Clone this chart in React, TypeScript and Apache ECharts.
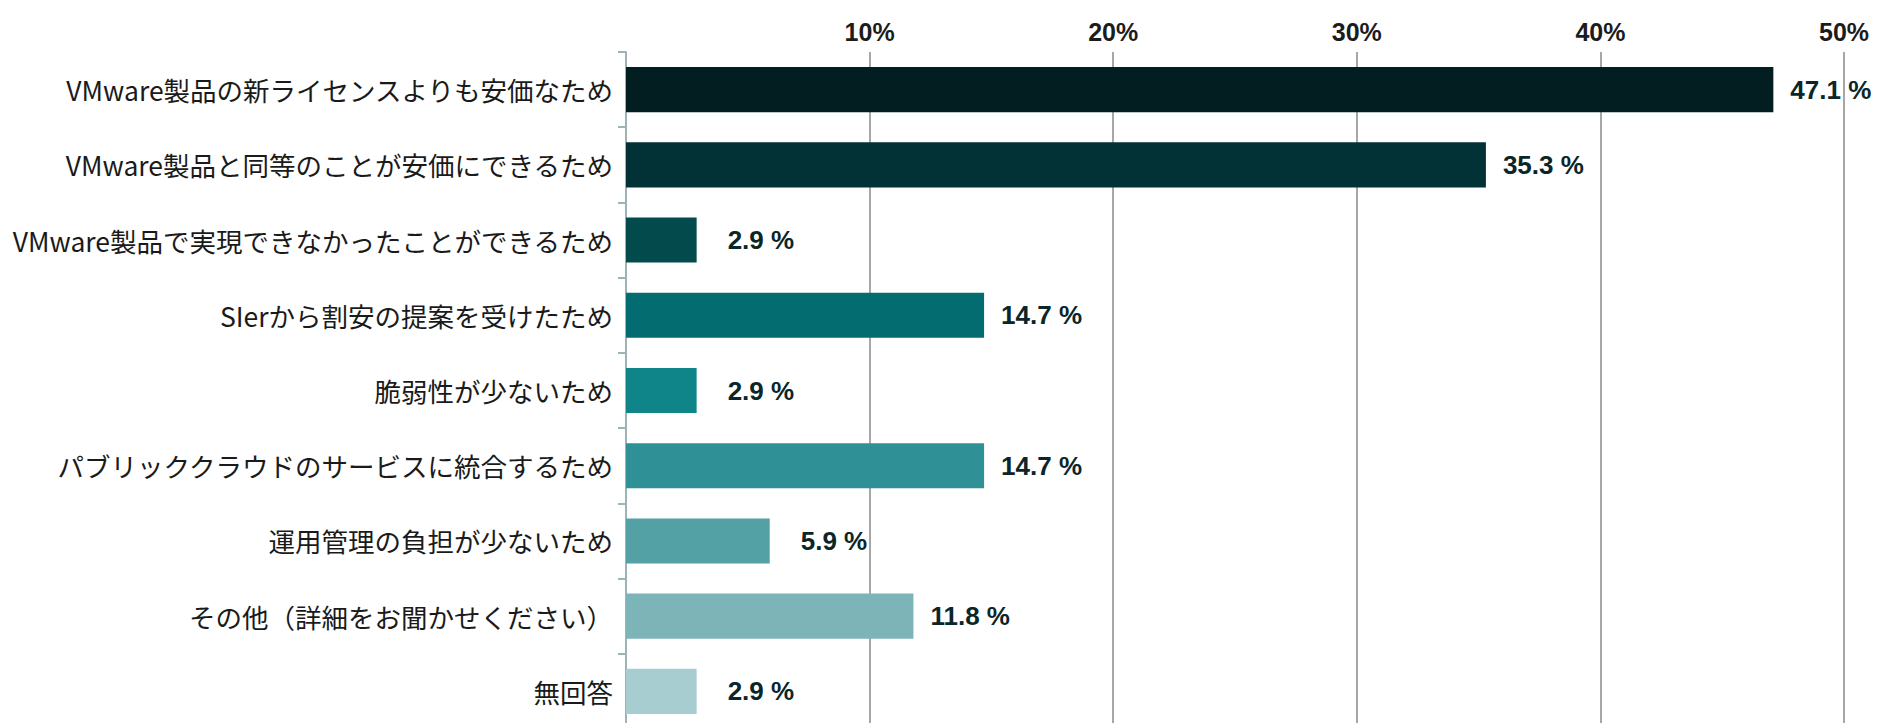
import { useEffect, useRef } from "react";
import * as echarts from "echarts";

const categories = [
  "VMware製品の新ライセンスよりも安価なため",
  "VMware製品と同等のことが安価にできるため",
  "VMware製品で実現できなかったことができるため",
  "SIerから割安の提案を受けたため",
  "脆弱性が少ないため",
  "パブリッククラウドのサービスに統合するため",
  "運用管理の負担が少ないため",
  "その他（詳細をお聞かせください）",
  "無回答",
];

const values = [47.1, 35.3, 2.9, 14.7, 2.9, 14.7, 5.9, 11.8, 2.9];

const barColors = [
  "#021e21",
  "#023236",
  "#024a4c",
  "#026c70",
  "#0f858a",
  "#2f9195",
  "#53a1a4",
  "#7cb4b7",
  "#a8cdd0",
];

const xTicks = [0, 10, 20, 30, 40, 50];

export default function App() {
  const ref = useRef<HTMLDivElement | null>(null);

  useEffect(() => {
    if (!ref.current) return;
    const chart = echarts.init(ref.current, null, { renderer: "svg" });

    chart.setOption({
      animation: false,
      backgroundColor: "#ffffff",
      grid: { left: 626, right: 45, top: 52, bottom: -6, containLabel: false, outerBoundsMode: "none" },
      xAxis: {
        type: "value",
        position: "top",
        min: xTicks[0],
        max: xTicks[xTicks.length - 1],
        interval: 10,
        axisLine: { show: false },
        axisTick: { show: false },
        axisLabel: {
          margin: 8,
          fontSize: 25,
          fontWeight: "bold",
          color: "#1c1c1c",
          fontFamily: "'Liberation Sans', Arial, sans-serif",
          formatter: (v: number) => (v === 0 ? "" : v + "%"),
        },
        splitLine: {
          show: true,
          showMinLine: false,
          lineStyle: { color: "#8a8a8a", width: 1.5 },
        },
      },
      yAxis: {
        type: "category",
        inverse: true,
        data: categories,
        axisLine: { show: true, lineStyle: { color: "#9db3b5", width: 2 } },
        axisTick: { show: true, length: 8, lineStyle: { color: "#9db3b5", width: 2 } },
        axisLabel: {
          margin: 13,
          fontSize: 26.5,
          color: "#1a1a1a",
          fontFamily: "'Noto Sans CJK JP', sans-serif",
        },
        splitLine: { show: false },
      },
      series: [
        {
          type: "bar",
          barCategoryGap: "40%",
          data: values.map((v, i) => ({
            value: v,
            itemStyle: { color: barColors[i] },
            label: { distance: v < 10 ? 31 : 17 },
          })),
          label: {
            show: true,
            position: "right",
            fontSize: 26,
            fontWeight: "bold",
            color: "#0b2629",
            fontFamily: "'Liberation Sans', Arial, sans-serif",
            formatter: (p: any) => Number(p.value).toFixed(1) + " %",
          },
        },
      ],
    });

    return () => chart.dispose();
  }, []);

  return (
    <div
      ref={ref}
      style={{ position: "absolute", left: 0, top: 0, width: 1889, height: 723 }}
    />
  );
}
